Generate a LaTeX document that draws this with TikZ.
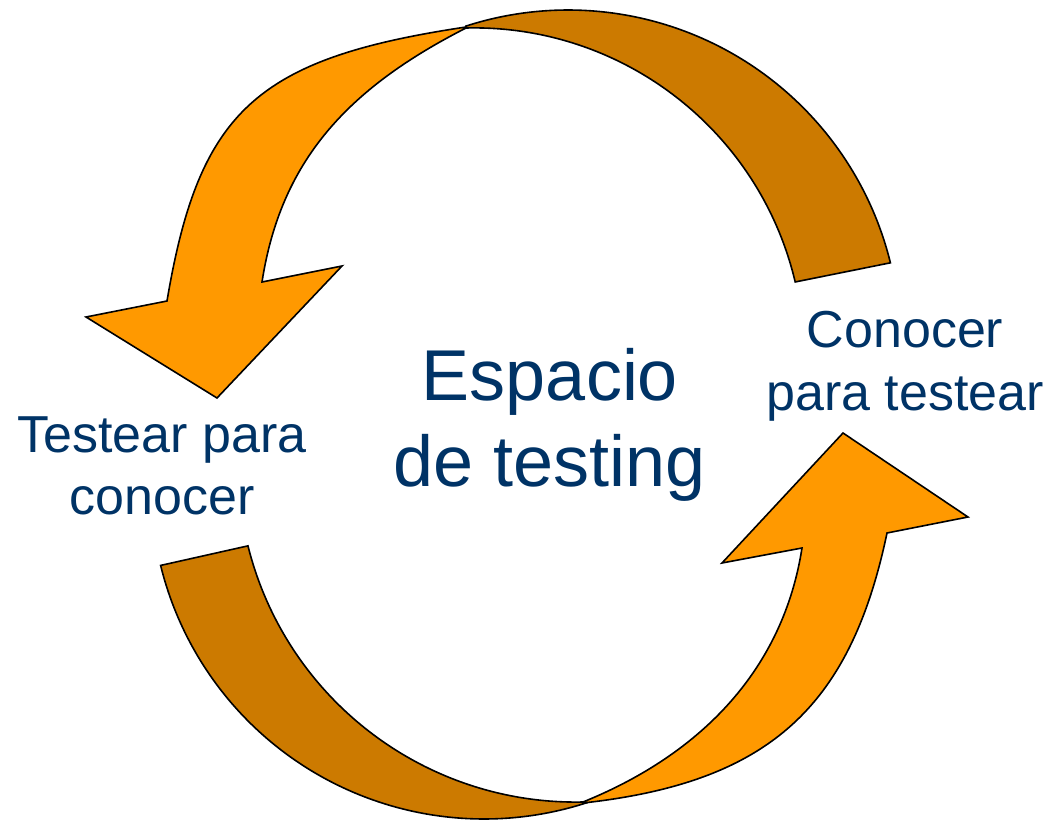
\documentclass[tikz,border=0pt]{standalone}
\usepackage{fontspec}
\setmainfont{Liberation Sans}
\usepackage{tikz}

\definecolor{naranja}{RGB}{255,153,0}
\definecolor{naranjaosc}{RGB}{204,122,0}
\definecolor{azul}{RGB}{0,51,102}

\begin{document}
\begin{tikzpicture}[x=1pt,y=-1pt,
  frente/.style={fill=naranja,draw=black,line width=1.6pt},
  dorso/.style={fill=naranjaosc,draw=black,line width=1.6pt},
  rotulo/.style={text=azul,align=center,inner sep=0pt}]
\useasboundingbox (0,0) rectangle (1053,822);

% flecha de arriba
\draw[dorso] (568,342) ++(-13.8:332) arc[start angle=-13.8,end angle=-107.9,radius=332]
  -- (466,28) arc[start angle=-91.4,end angle=-13.3,radius=330] -- cycle;
\draw[frente] (466,27) .. controls (256,58.5) and (199,111) .. (167,301)
  -- (86,317) -- (217,398) -- (342,266) -- (262,282)
  .. controls (280.6,162) and (346,89.2) .. (466,28) -- cycle;

% flecha de abajo
\draw[dorso] (484,486) ++(166.2:333) arc[start angle=166.2,end angle=72.1,radius=333]
  -- (583,802) arc[start angle=88.8,end angle=166,radius=338] -- cycle;
\draw[frente] (583,803) .. controls (768,782.6) and (850.3,708) .. (887,533)
  -- (968,517) -- (843,433) -- (722,563) -- (802,548)
  .. controls (783.3,668) and (703,753.4) .. (583,802) -- cycle;

\node[rotulo,font=\fontsize{72}{86}\selectfont] (centro) at (550,425) {Espacio\\de testing};
\node[rotulo,font=\fontsize{52}{62}\selectfont] (izq) at (162,466) {Testear para\\conocer};
\node[rotulo,font=\fontsize{52}{63}\selectfont] (der) at (905,366) {Conocer\\para testear};
\end{tikzpicture}
\end{document}
